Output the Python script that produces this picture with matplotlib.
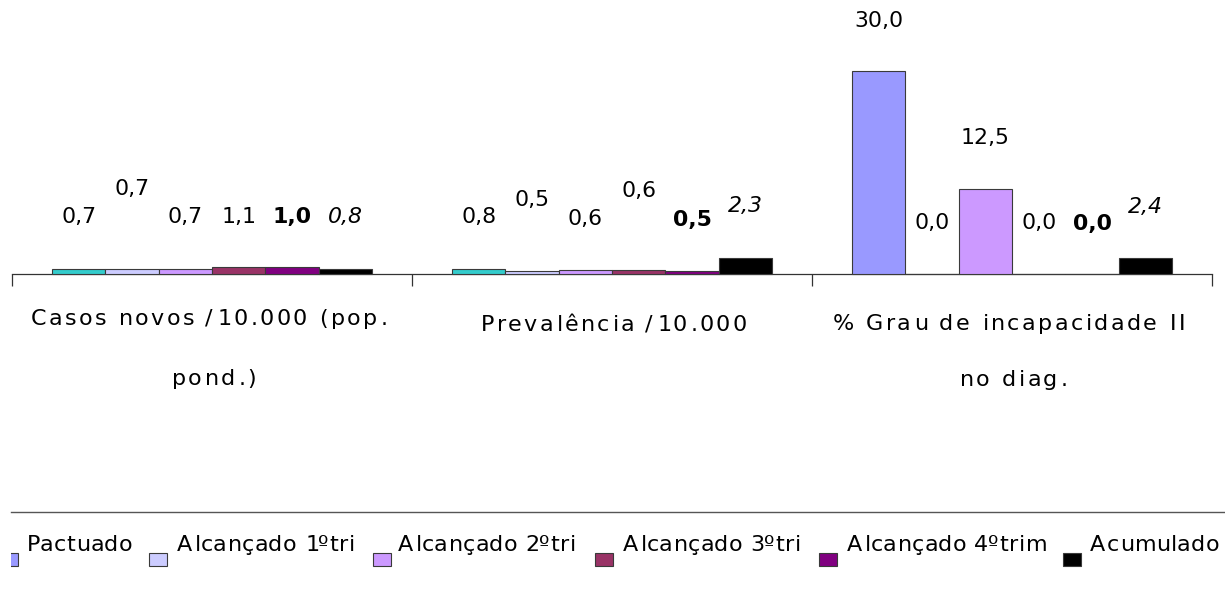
import matplotlib
matplotlib.use("Agg")
import matplotlib.pyplot as plt
import numpy as np
from matplotlib.font_manager import FontProperties, findfont
from matplotlib.ft2font import FT2Font, LoadFlags
from matplotlib.transforms import offset_copy, blended_transform_factory, Bbox
from matplotlib.patches import Rectangle
from matplotlib.lines import Line2D

# ---- data -------------------------------------------------------------
categories = [
    ["Casos novos /10.000 (pop. ", "pond.)"],
    ["Prevalência /10.000"],
    ["% Grau de incapacidade II ", "no diag."],
]
series_names = ["Pactuado", "Alcançado 1ºtri", "Alcançado 2ºtri",
                "Alcançado 3ºtri", "Alcançado 4ºtrim", "Acumulado"]
pactuado = [0.7, 0.8, 30.0]
alcancado_1 = [0.7, 0.5, 0.0]
alcancado_2 = [0.7, 0.6, 12.5]
alcancado_3 = [1.1, 0.6, 0.0]
alcancado_4 = [1.0, 0.5, 0.0]
acumulado = [0.8, 2.3, 2.4]
series_values = [pactuado, alcancado_1, alcancado_2, alcancado_3, alcancado_4, acumulado]

# ---- styling ----------------------------------------------------------
series_colors = ["#9999FF", "#CCCCFF", "#CC99FF", "#993366", "#800080", "#000000"]
pactuado_point_colors = ["#33CCCC", "#33CCCC", "#9999FF"]
label_weights = ["normal", "normal", "normal", "normal", "bold", "normal"]
label_styles = ["normal", "normal", "normal", "normal", "normal", "italic"]
# baseline height (data units) of each value label, per series and category
label_heights = [
    [7.5, 7.5, 36.5],
    [11.7, 10.1, 6.6],
    [7.5, 7.3, 19.2],
    [7.5, 11.4, 6.6],
    [7.5, 7.1, 6.5],
    [7.5, 9.1, 9.05],
]

W, H = 1225, 596
FONT = "DejaVu Sans"

fig = plt.figure(figsize=(W / 100, H / 100), dpi=100)
fig.patch.set_facecolor("white")


def fx(x):
    return x / W


def fy(y):
    return 1 - y / H


def glyph_metrics(text, prop):
    font = FT2Font(findfont(prop))
    font.set_size(prop.get_size_in_points(), 72)
    adv, bear = [], []
    for ch in text:
        g = font.load_char(ord(ch), flags=LoadFlags.NO_HINTING)
        adv.append(g.linearHoriAdvance / 65536)
        bear.append(g.horiBearingX / 64)
    return adv, bear


def tracked_text(x, y, text, transform, size, tracking, ha="center",
                 weight="normal", style="normal", color="black"):
    prop = FontProperties(family=FONT, size=size, weight=weight, style=style)
    adv, bear = glyph_metrics(text, prop)
    total = sum(adv) + tracking * (len(text) - 1)
    pos = -total / 2 if ha == "center" else -bear[0]
    for ch, a, b in zip(text, adv, bear):
        if ch != " ":
            tr = offset_copy(transform, fig=fig, x=pos + b, y=0, units="points")
            fig.text(x, y, ch, transform=tr, fontproperties=prop,
                     ha="left", va="baseline", color=color)
        pos += a + tracking


# ---- axes -------------------------------------------------------------
ax = fig.add_axes([fx(12), fy(274), fx(1212) - fx(12), fy(3) - fy(274)])
ax.set_xlim(-0.5, 2.5)
ax.set_ylim(0, 40)
for side in ["left", "right", "top"]:
    ax.spines[side].set_visible(False)
ax.spines["bottom"].set_color("#333333")
ax.spines["bottom"].set_linewidth(0.9)
ax.set_yticks([])
ax.set_xticks([-0.5, 0.5, 1.5, 2.5])
ax.set_xticklabels([])
ax.tick_params(axis="x", direction="out", length=8.6, width=0.9, color="#333333")

n_series = len(series_values)
bar_w = 0.8 / n_series
x = np.arange(len(categories))
for i, (name, vals) in enumerate(zip(series_names, series_values)):
    offs = -0.4 + bar_w * (i + 0.5)
    colors = pactuado_point_colors if i == 0 else [series_colors[i]] * len(vals)
    ax.bar(x + offs, vals, width=bar_w, color=colors, edgecolor="#3a3a3a",
           linewidth=0.8, zorder=3, clip_on=False)
    for j, v in enumerate(vals):
        ax.text(x[j] + offs, label_heights[i][j], f"{v:.1f}".replace(".", ","),
                family=FONT, fontsize=15.8, fontweight=label_weights[i],
                fontstyle=label_styles[i], ha="center", va="baseline")

# category labels under the axis
cat_baselines = [[325, 385], [331], [330, 386]]
cat_tr = blended_transform_factory(ax.transData, fig.transFigure)
for j, lines in enumerate(categories):
    for line, yb in zip(lines, cat_baselines[j]):
        tracked_text(x[j], fy(yb), line, cat_tr, 16, 1.8)

# ---- legend -----------------------------------------------------------
fig.add_artist(Line2D([fx(11), 1.0], [fy(512), fy(512)], color="#555555",
                      linewidth=1.0))
marker_left = [0, 149, 373, 595, 819, 1063]
text_left = [27, 177, 398, 623, 847, 1090]
clip = Bbox([[11, 0], [W, H]])
for i, name in enumerate(series_names):
    rect = Rectangle((fx(marker_left[i]), fy(566)), fx(18), fy(553) - fy(566),
                     transform=fig.transFigure, facecolor=series_colors[i],
                     edgecolor="#3a3a3a", linewidth=0.8)
    fig.add_artist(rect)
    rect.set_clip_box(clip)
    tracked_text(fx(text_left[i]), fy(551), name, fig.transFigure, 16, 0.3,
                 ha="left")

fig.savefig("out.png", dpi=100)
